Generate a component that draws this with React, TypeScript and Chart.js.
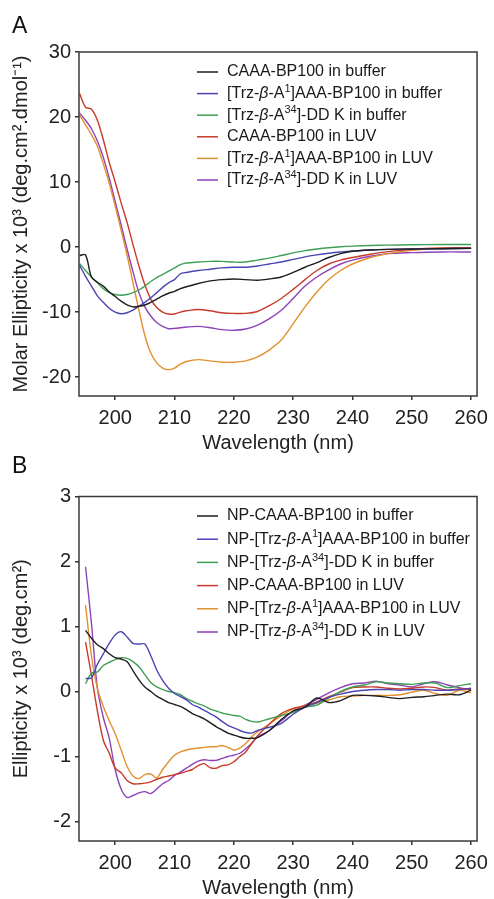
import React, { useEffect, useRef } from "react";
import { Chart, registerables } from "chart.js";
Chart.register(...registerables);

const FONT = "'Liberation Sans', Arial, Helvetica, sans-serif";
const COLORS = ["#1e1e1e", "#4a45b2", "#3f9f55", "#c83a2a", "#e3902e", "#8d43b8"];

// ---------- Panel A ----------
const wavelengthA = [194, 195, 196, 197, 198, 199, 200, 201, 202, 203, 204, 205, 206, 207, 208, 209, 210, 211, 212, 214, 216, 218, 220, 222, 224, 226, 228, 230, 232, 234, 236, 238, 240, 243, 246, 250, 255, 260];
const caaaBufferA = [-1.3, -1.2, -4.6, -5.4, -6.0, -6.9, -7.6, -8.3, -8.9, -9.2, -9.1, -8.9, -8.5, -8.0, -7.5, -7.1, -6.8, -6.4, -6.1, -5.6, -5.2, -5.0, -4.9, -5.0, -5.1, -4.9, -4.6, -3.9, -3.1, -2.4, -1.6, -1.0, -0.65, -0.45, -0.35, -0.3, -0.25, -0.2];
const trzA1BufferA = [-2.8, -4.5, -6.0, -7.5, -8.5, -9.4, -10.0, -10.25, -10.1, -9.7, -9.1, -8.5, -7.8, -7.0, -6.2, -5.5, -5.0, -4.1, -3.9, -3.6, -3.4, -3.2, -3.1, -3.1, -2.9, -2.6, -2.3, -1.9, -1.5, -1.2, -0.95, -0.75, -0.6, -0.45, -0.35, -0.3, -0.25, -0.2];
const trzA34BufferA = [-2.5, -3.6, -4.6, -5.5, -6.4, -7.0, -7.3, -7.4, -7.3, -7.0, -6.6, -6.0, -5.3, -4.7, -4.2, -3.7, -3.2, -2.7, -2.45, -2.3, -2.2, -2.2, -2.3, -2.3, -2.0, -1.7, -1.3, -0.9, -0.55, -0.3, -0.1, 0.05, 0.15, 0.25, 0.3, 0.35, 0.4, 0.4];
const caaaLuvA = [23.6, 21.5, 21.2, 19.5, 16.5, 13.0, 10.0, 6.8, 3.8, 0.4, -2.9, -5.8, -8.0, -9.3, -10.0, -10.3, -10.3, -10.0, -9.8, -9.6, -9.8, -10.1, -10.2, -10.2, -9.9, -9.0, -7.9, -6.5, -5.0, -3.6, -2.6, -2.0, -1.6, -1.1, -0.7, -0.35, -0.15, -0.1];
const trzA1LuvA = [20.3, 18.8, 17.3, 15.5, 12.8, 9.8, 6.3, 2.6, -1.2, -5.5, -9.7, -13.6, -16.3, -17.8, -18.6, -18.85, -18.6, -18.0, -17.6, -17.3, -17.5, -17.7, -17.7, -17.5, -16.9, -15.8, -14.3, -11.8, -9.2, -6.9, -5.0, -3.6, -2.6, -1.6, -1.0, -0.5, -0.2, -0.1];
const trzA34LuvA = [20.6, 19.5, 18.2, 16.3, 13.8, 10.6, 7.0, 3.4, -0.3, -3.8, -7.0, -9.2, -10.6, -11.6, -12.2, -12.55, -12.5, -12.4, -12.3, -12.2, -12.4, -12.7, -12.8, -12.6, -12.0, -11.0, -9.7, -7.9, -6.0, -4.6, -3.5, -2.6, -2.0, -1.4, -1.0, -0.85, -0.75, -0.75];
const labelsA = [
  "CAAA-BP100 in buffer",
  "[Trz-{i:β}-A{s:1}]AAA-BP100 in buffer",
  "[Trz-{i:β}-A{s:34}]-DD K in buffer",
  "CAAA-BP100 in LUV",
  "[Trz-{i:β}-A{s:1}]AAA-BP100 in LUV",
  "[Trz-{i:β}-A{s:34}]-DD K in LUV",
];

// ---------- Panel B ----------
const wavelengthB = [195, 196, 197, 198, 199, 200, 201, 202, 203, 204, 205, 206, 207, 208, 209, 210, 211, 212, 213, 214, 215, 216, 217, 218, 219, 220, 221, 222, 223, 224, 226, 228, 230, 232, 234, 236, 238, 240, 242, 244, 246, 248, 250, 252, 254, 256, 258, 260];
const npCaaaBufferB = [0.94, 0.82, 0.72, 0.66, 0.58, 0.52, 0.5, 0.46, 0.32, 0.18, 0.07, 0.0, -0.07, -0.12, -0.17, -0.2, -0.23, -0.28, -0.34, -0.38, -0.42, -0.48, -0.54, -0.59, -0.64, -0.67, -0.7, -0.72, -0.72, -0.71, -0.6, -0.43, -0.3, -0.24, -0.1, -0.17, -0.14, -0.06, -0.06, -0.07, -0.09, -0.11, -0.09, -0.08, -0.06, -0.04, -0.05, 0.02];
const npTrzA1BufferB = [0.2, 0.21, 0.42, 0.58, 0.74, 0.87, 0.92, 0.84, 0.74, 0.73, 0.73, 0.55, 0.33, 0.17, 0.05, -0.03, -0.08, -0.13, -0.2, -0.24, -0.29, -0.34, -0.39, -0.46, -0.52, -0.56, -0.6, -0.63, -0.64, -0.6, -0.55, -0.49, -0.35, -0.24, -0.17, -0.09, -0.04, 0.0, 0.02, 0.03, 0.03, 0.02, 0.03, 0.03, 0.02, 0.02, 0.03, 0.05];
const npTrzA34BufferB = [0.12, 0.28, 0.3, 0.4, 0.45, 0.49, 0.52, 0.51, 0.46, 0.38, 0.26, 0.14, 0.07, 0.03, 0.0, -0.02, -0.05, -0.11, -0.15, -0.19, -0.22, -0.27, -0.3, -0.33, -0.35, -0.37, -0.38, -0.43, -0.46, -0.47, -0.42, -0.37, -0.32, -0.24, -0.21, -0.1, 0.0, 0.07, 0.1, 0.15, 0.13, 0.12, 0.11, 0.13, 0.13, 0.06, 0.09, 0.12];
const npCaaaLuvB = [0.76, 0.25, -0.3, -0.75, -0.95, -1.18, -1.25, -1.37, -1.42, -1.42, -1.41, -1.39, -1.35, -1.32, -1.3, -1.28, -1.26, -1.23, -1.2, -1.14, -1.11, -1.17, -1.18, -1.14, -1.13, -1.08, -1.0, -0.93, -0.8, -0.68, -0.5, -0.34, -0.26, -0.22, -0.16, -0.08, -0.01, 0.06, 0.07, 0.07, 0.05, 0.04, 0.05, 0.07, 0.06, 0.02, 0.04, 0.03];
const npTrzA1LuvB = [1.33, 0.55, 0.05, -0.23, -0.45, -0.65, -0.9, -1.15, -1.3, -1.34, -1.28, -1.27, -1.33, -1.2, -1.08, -0.98, -0.93, -0.9, -0.88, -0.87, -0.86, -0.85, -0.85, -0.83, -0.86, -0.9, -0.87, -0.8, -0.7, -0.62, -0.5, -0.37, -0.27, -0.22, -0.18, -0.13, -0.08, -0.07, -0.06, -0.06, -0.06, -0.05, -0.01, 0.02, -0.03, -0.06, 0.02, -0.02];
const npTrzA34LuvB = [1.92, 1.05, 0.05, -0.4, -0.72, -1.2, -1.5, -1.63, -1.6, -1.56, -1.54, -1.57, -1.5, -1.42, -1.37, -1.29, -1.24, -1.18, -1.12, -1.07, -1.05, -1.06, -1.06, -1.03, -1.0, -0.98, -0.95, -0.88, -0.8, -0.7, -0.6, -0.45, -0.3, -0.21, -0.12, -0.02, 0.06, 0.12, 0.13, 0.16, 0.12, 0.1, 0.07, 0.12, 0.15, 0.1, 0.06, 0.02];
const labelsB = [
  "NP-CAAA-BP100 in buffer",
  "NP-[Trz-{i:β}-A{s:1}]AAA-BP100 in buffer",
  "NP-[Trz-{i:β}-A{s:34}]-DD K in buffer",
  "NP-CAAA-BP100 in LUV",
  "NP-[Trz-{i:β}-A{s:1}]AAA-BP100 in LUV",
  "NP-[Trz-{i:β}-A{s:34}]-DD K in LUV",
];

const TOKEN = /\{(i|s):([^}]*)\}/g;
const plain = (t: string) => t.replace(TOKEN, "$2");

function drawRich(ctx: CanvasRenderingContext2D, x: number, y: number, text: string, size: number) {
  let cx = x;
  const seg = (t: string, italic: boolean, sup: boolean) => {
    const fs = sup ? Math.round(size * 0.68) : size;
    ctx.font = `${italic ? "italic " : ""}${fs}px ${FONT}`;
    ctx.fillText(t, cx, sup ? y - size * 0.3 : y);
    cx += ctx.measureText(t).width;
  };
  const re = new RegExp(TOKEN.source, "g");
  let last = 0;
  let m: RegExpExecArray | null;
  while ((m = re.exec(text))) {
    if (m.index > last) seg(text.slice(last, m.index), false, false);
    seg(m[2], m[1] === "i", m[1] === "s");
    last = re.lastIndex;
  }
  if (last < text.length) seg(text.slice(last), false, false);
}

type PanelProps = {
  top: number;
  height: number;
  areaTop: number;
  wl: number[];
  series: number[][];
  labels: string[];
  yMin: number;
  yMax: number;
  yStep: number;
  yTitle: string;
  legendFirst: number;
  legendGap: number;
};

function Panel(p: PanelProps) {
  const ref = useRef<HTMLCanvasElement>(null);
  useEffect(() => {
    if (!ref.current) return;
    const legendPlugin = {
      id: "richLegend",
      afterDatasetsDraw(chart: any) {
        const { ctx, chartArea } = chart;
        ctx.save();
        p.labels.forEach((lab, i) => {
          const y = chartArea.top + p.legendFirst + i * p.legendGap;
          ctx.strokeStyle = COLORS[i];
          ctx.lineWidth = 1.5;
          ctx.beginPath();
          ctx.moveTo(chartArea.left + 118, y);
          ctx.lineTo(chartArea.left + 139, y);
          ctx.stroke();
          ctx.fillStyle = "#1a1a1a";
          ctx.textBaseline = "middle";
          ctx.textAlign = "left";
          drawRich(ctx, chartArea.left + 148, y, lab, 16);
        });
        ctx.restore();
      },
    };
    const framePlugin = {
      id: "frame",
      afterDraw(chart: any) {
        const { ctx, chartArea } = chart;
        ctx.save();
        ctx.strokeStyle = "#3a3a3a";
        ctx.lineWidth = 1.5;
        ctx.strokeRect(chartArea.left, chartArea.top, chartArea.right - chartArea.left, chartArea.bottom - chartArea.top);
        ctx.restore();
      },
    };
    const chart = new Chart(ref.current, {
      type: "line",
      data: {
        datasets: p.series.map((s, i) => ({
          label: plain(p.labels[i]),
          data: p.wl.map((x, j) => ({ x, y: s[j] })),
          borderColor: COLORS[i],
          backgroundColor: COLORS[i],
          borderWidth: 1.4,
          pointRadius: 0,
          tension: 0.3,
          fill: false,
        })),
      },
      options: {
        animation: false,
        responsive: false,
        devicePixelRatio: 1,
        layout: { padding: { top: p.areaTop, right: 13, left: 0, bottom: 0 } },
        plugins: { legend: { display: false }, tooltip: { enabled: false }, title: { display: false } },
        scales: {
          x: {
            type: "linear",
            min: 193.9,
            max: 261,
            afterFit: (s: any) => {
              s.height = 58;
            },
            ticks: { stepSize: 10, includeBounds: false, maxRotation: 0, autoSkip: false, font: { family: FONT, size: 20 }, color: "#222", padding: 6 },
            grid: { drawOnChartArea: false, drawTicks: true, tickLength: 4, color: "#333", lineWidth: 1.5 },
            border: { display: false },
            title: { display: true, text: "Wavelength (nm)", font: { family: FONT, size: 20, lineHeight: 1.1 }, color: "#222", padding: { top: 0, bottom: 0 } },
          },
          y: {
            type: "linear",
            min: p.yMin,
            max: p.yMax,
            afterFit: (s: any) => {
              s.width = 79;
            },
            ticks: { stepSize: p.yStep, includeBounds: false, font: { family: FONT, size: 20 }, color: "#222", padding: 4 },
            grid: { drawOnChartArea: false, drawTicks: true, tickLength: 4, color: "#333", lineWidth: 1.5 },
            border: { display: false },
            title: { display: true, text: p.yTitle, font: { family: FONT, size: 20, lineHeight: 1.1 }, color: "#222", padding: { top: 10, bottom: 0 } },
          },
        },
      } as any,
      plugins: [legendPlugin, framePlugin],
    });
    return () => chart.destroy();
  }, []);
  return <canvas ref={ref} width={494} height={p.height} style={{ position: "absolute", left: 0, top: p.top, display: "block" }} />;
}

export default function App() {
  const letter: React.CSSProperties = { position: "absolute", left: 12, fontFamily: FONT, fontSize: 23, lineHeight: "23px", color: "#111" };
  return (
    <div style={{ position: "absolute", left: 0, top: 0, width: 494, height: 899, background: "#fff", overflow: "hidden" }}>
      <Panel
        top={0}
        height={454}
        areaTop={52}
        wl={wavelengthA}
        series={[caaaBufferA, trzA1BufferA, trzA34BufferA, caaaLuvA, trzA1LuvA, trzA34LuvA]}
        labels={labelsA}
        yMin={-22.9}
        yMax={30}
        yStep={10}
        yTitle="Molar Ellipticity x 10³ (deg.cm².dmol⁻¹)"
        legendFirst={20}
        legendGap={21.6}
      />
      <Panel
        top={454}
        height={445}
        areaTop={42.5}
        wl={wavelengthB}
        series={[npCaaaBufferB, npTrzA1BufferB, npTrzA34BufferB, npCaaaLuvB, npTrzA1LuvB, npTrzA34LuvB]}
        labels={labelsB}
        yMin={-2.3}
        yMax={3}
        yStep={1}
        yTitle="Ellipticity x 10³ (deg.cm²)"
        legendFirst={19.5}
        legendGap={23.2}
      />
      <div style={{ ...letter, top: 14 }}>A</div>
      <div style={{ ...letter, top: 454 }}>B</div>
    </div>
  );
}
